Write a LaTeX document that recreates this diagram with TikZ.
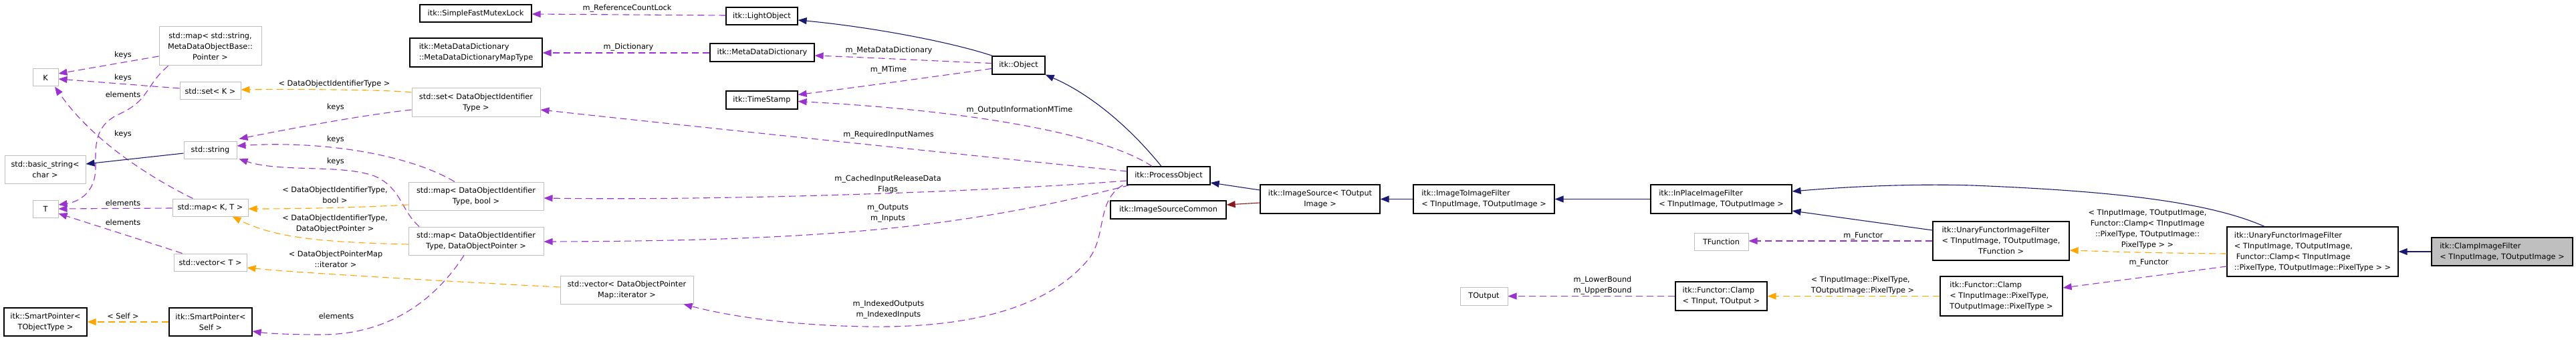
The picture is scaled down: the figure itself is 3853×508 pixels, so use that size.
\documentclass[tikz,border=0pt]{standalone}
\usepackage{fontspec}
\setmainfont{DejaVu Sans}
\usetikzlibrary{arrows.meta,calc}
\definecolor{navy}{HTML}{191970}
\definecolor{orchid}{HTML}{9A32CD}
\definecolor{orng}{HTML}{FFA500}
\definecolor{fire}{HTML}{8B1A1A}
\definecolor{gseventyfive}{HTML}{BFBFBF}
\begin{document}
\begin{tikzpicture}[x=1pt,y=-1pt,
  every node/.style={font=\fontsize{11.3}{16}\selectfont, inner sep=0pt},
  dnode/.style={draw=black, line width=1.2pt, fill=white, align=center},
  unode/.style={draw=gseventyfive, line width=1pt, fill=white, align=center},
  lbl/.style={align=center},
  edgebase/.style={line width=1.1pt, -{Triangle[length=13pt,width=10pt]}},
  inh/.style={edgebase, draw=navy},
  priv/.style={edgebase, draw=fire},
  use/.style={edgebase, draw=orchid, dash pattern=on 10pt off 6pt},
  tmpl/.style={edgebase, draw=orng, dash pattern=on 10pt off 6pt}]
\useasboundingbox (0,0) rectangle (3853,508);
\fill[white] (0,0) rectangle (3853,508);

% ---------------- nodes ----------------
\node[unode, minimum width=153, minimum height=58] (mapstr) at (314.5,69) {std::map< std::string,\\ MetaDataObjectBase::\\ Pointer >};
\node[unode, minimum width=38, minimum height=26] (K) at (68,116) {K};
\node[unode, minimum width=91, minimum height=26] (setK) at (314.5,136) {std::set< K >};
\node[unode, minimum width=79, minimum height=26] (str) at (314.5,224) {std::string};
\node[unode, minimum width=121, minimum height=42] (basic) at (67.5,253) {std::basic\_string<\\char >};
\node[unode, minimum width=38, minimum height=26] (T) at (68,312) {T};
\node[unode, minimum width=113, minimum height=26] (mapKT) at (314.5,310) {std::map< K, T >};
\node[unode, minimum width=109, minimum height=26] (vecT) at (314.5,392) {std::vector< T >};
\node[dnode, minimum width=124, minimum height=42] (spT) at (68,481) {itk::SmartPointer<\\ TObjectType >};
\node[dnode, minimum width=124, minimum height=42] (spS) at (315,481) {itk::SmartPointer<\\ Self >};
\node[dnode, minimum width=167, minimum height=26] (mutex) at (711.5,20) {itk::SimpleFastMutexLock};
\node[dnode, minimum width=198, minimum height=43, align=left] (mdmap) at (712,78.5) {itk::MetaDataDictionary\\::MetaDataDictionaryMapType};
\node[unode, minimum width=192, minimum height=42] (setD) at (712,153) {std::set< DataObjectIdentifier\\Type >};
\node[unode, minimum width=202, minimum height=42] (mapDB) at (712,293) {std::map< DataObjectIdentifier\\Type, bool >};
\node[unode, minimum width=202, minimum height=42] (mapDP) at (712,360) {std::map< DataObjectIdentifier\\Type, DataObjectPointer >};
\node[unode, minimum width=199, minimum height=42] (vecD) at (937.5,433) {std::vector< DataObjectPointer\\Map::iterator >};
\node[dnode, minimum width=107, minimum height=26] (light) at (1139.5,24) {itk::LightObject};
\node[dnode, minimum width=156, minimum height=27] (mdd) at (1140,78.5) {itk::MetaDataDictionary};
\node[dnode, minimum width=107, minimum height=27] (ts) at (1139.5,149.5) {itk::TimeStamp};
\node[dnode, minimum width=79, minimum height=27] (obj) at (1523.5,97.5) {itk::Object};
\node[dnode, minimum width=124, minimum height=27] (proc) at (1748,262.5) {itk::ProcessObject};
\node[dnode, minimum width=173, minimum height=27] (isc) at (1747.5,313.5) {itk::ImageSourceCommon};
\node[dnode, minimum width=179, minimum height=43] (isrc) at (1974.5,297.5) {itk::ImageSource< TOutput\\Image >};
\node[dnode, minimum width=211, minimum height=43, align=left] (i2i) at (2219.5,297.5) {itk::ImageToImageFilter\\< TInputImage, TOutputImage >};
\node[unode, minimum width=71, minimum height=27] (tout) at (2219.5,442.5) {TOutput};
\node[dnode, minimum width=211, minimum height=43, align=left] (inplace) at (2574.5,297.5) {itk::InPlaceImageFilter\\< TInputImage, TOutputImage >};
\node[unode, minimum width=81, minimum height=26] (tfunc) at (2574.5,361) {TFunction};
\node[dnode, minimum width=137, minimum height=43, align=left] (clampIO) at (2574.5,442.5) {itk::Functor::Clamp\\< TInput, TOutput >};
\node[dnode, minimum width=204, minimum height=58] (ufTF) at (2993,360) {\begin{tabular}{@{}l@{}}itk::UnaryFunctorImageFilter\\< TInputImage, TOutputImage,\\\multicolumn{1}{@{}c@{}}{TFunction >}\end{tabular}};
\node[dnode, minimum width=183, minimum height=59] (clampPT) at (2993.5,442.5) {\begin{tabular}{@{}l@{}}itk::Functor::Clamp\\< TInputImage::PixelType,\\\multicolumn{1}{@{}c@{}}{TOutputImage::PixelType >}\end{tabular}};
\node[dnode, minimum width=256, minimum height=74, align=left] (ufC) at (3459,376) {itk::UnaryFunctorImageFilter\\< TInputImage, TOutputImage,\\\hspace*{3pt}Functor::Clamp< TInputImage\\::PixelType, TOutputImage::PixelType > >};
\node[dnode, fill=gseventyfive, minimum width=211, minimum height=42, align=left] (clampIF) at (3742.5,376) {itk::ClampImageFilter\\< TInputImage, TOutputImage >};

% ---------------- labels ----------------
\node[lbl] (l1) at (184,82) {keys};
\node[lbl] (l2) at (184,116) {keys};
\node[lbl] (l3) at (184,141) {elements};
\node[lbl] (l4) at (184,200) {keys};
\node[lbl] (l6) at (184,303) {elements};
\node[lbl] (l7) at (184,332) {elements};
\node[lbl] (l8) at (184,472) {< Self >};
\node[lbl] (l9) at (503,472) {elements};
\node[lbl] (l10) at (500,125) {< DataObjectIdentifierType >};
\node[lbl] (l11) at (502,160) {keys};
\node[lbl] (l12) at (502,208) {keys};
\node[lbl] (l13) at (502,241) {keys};
\node[lbl] (l14) at (501,291) {< DataObjectIdentifierType,\\ bool >};
\node[lbl] (l15) at (501,334.5) {< DataObjectIdentifierType,\\ DataObjectPointer >};
\node[lbl] (l16) at (502,387.5) {< DataObjectPointerMap\\ ::iterator >};
\node[lbl] (l17) at (938,13) {m\_ReferenceCountLock};
\node[lbl] (l18) at (940,71) {m\_Dictionary};
\node[lbl] (l20) at (1329.5,76) {m\_MetaDataDictionary};
\node[lbl] (l21) at (1329,105) {m\_MTime};
\node[lbl] (l22) at (1525,165) {m\_OutputInformationMTime};
\node[lbl] (l23) at (1329,202) {m\_RequiredInputNames};
\node[lbl] (l24) at (1328,275.7) {m\_CachedInputReleaseData\\Flags};
\node[lbl] (l25) at (1328,318.7) {m\_Outputs\\m\_Inputs};
\node[lbl] (l26) at (1329,462.7) {m\_IndexedOutputs\\m\_IndexedInputs};
\node[lbl] (l34) at (2787,352.7) {m\_Functor};
\node[lbl] (l35) at (2397,426.7) {m\_LowerBound\\m\_UpperBound};
\node[lbl, align=left] (l36) at (2786,426.7) {< TInputImage::PixelType,\\TOutputImage::PixelType >};
\node[lbl] (l37) at (3212,342.75) {< TInputImage, TOutputImage,\\Functor::Clamp< TInputImage\\::PixelType, TOutputImage::\\PixelType > >};
\node[lbl] (l38) at (3214,392.7) {m\_Functor};

% ---------------- edges ----------------
\draw[use] ($(mapstr.west)+(0,15)$) -- ($(K.east)+(0,-6)$);
\draw[use] ($(setK.west)+(0,-4)$) -- ($(K.east)+(0,2)$);
\draw[use] ($(mapstr.south west)+(14,0)$) .. controls (215,130) and (225,150) .. (175,172)
   .. controls (140,190) and (143,220) .. (143,250) .. controls (143,290) and (115,302) .. ($(T.east)+(0,-6)$);
\draw[use] ($(mapKT.north)+(-26,0)$) .. controls (230,268) and (140,213) .. ($(K.south)+(14,0)$);
\draw[inh] ($(str.west)+(0,5)$) -- ($(basic.east)+(0,-8)$);
\draw[use] ($(mapKT.west)+(0,1)$) -- (T.east);
\draw[use] ($(vecT.north west)+(13,0)$) .. controls (207,357) and (153,340) .. ($(T.east)+(0,7)$);
\draw[tmpl] (spS.west) -- (spT.east);
\draw[use] ($(mapDP.south)+(-18,0)$) .. controls (650,450) and (580,500) .. (480,500)
   .. controls (430,500) and (400,498) .. ($(spS.east)+(0,14)$);
\draw[tmpl] ($(setD.west)+(0,-15)$) .. controls (580,134) and (450,133) .. ($(setK.east)+(0,-2)$);
\draw[use] ($(setD.west)+(0,11)$) .. controls (540,172) and (420,195) .. ($(str.north east)+(3,-3)$);
\draw[use] ($(mapDB.north)+(-32,0)$) .. controls (610,230) and (480,210) .. ($(str.east)+(0,-6)$);
\draw[use] ($(mapDP.north)+(-85,0)$) .. controls (600,315) and (600,280) .. (560,263)
   .. controls (510,245) and (420,258) .. ($(str.south east)+(3,0)$);
\draw[tmpl] ($(mapDB.west)+(0,13)$) .. controls (540,310) and (450,312) .. ($(mapKT.east)+(0,2)$);
\draw[tmpl] ($(mapDP.west)+(0,5)$) .. controls (480,362) and (410,355) .. ($(mapKT.south east)+(-24,0)$);
\draw[tmpl] ($(vecD.west)+(0,-4)$) .. controls (700,422) and (450,408) .. ($(vecT.east)+(0,8)$);
\draw[use] ($(light.west)+(0,-1)$) -- ($(mutex.east)+(0,1)$);
\draw[use] ($(mdd.west)+(0,0.5)$) -- ($(mdmap.east)+(0,0.5)$);
\draw[inh] ($(obj.north west)+(1,0)$) .. controls (1420,62) and (1300,40) .. ($(light.east)+(0,6)$);
\draw[use] ($(obj.west)+(0,-3)$) .. controls (1440,93) and (1300,86) .. ($(mdd.east)+(0,4.5)$);
\draw[use] ($(obj.west)+(0,5)$) .. controls (1430,110) and (1300,128) .. ($(ts.east)+(0,-8)$);
\draw[use] ($(proc.north)+(-25,0)$) .. controls (1650,200) and (1450,165) .. ($(ts.east)+(0,2)$);
\draw[use] ($(proc.west)+(0,-6.5)$) .. controls (1450,232) and (1000,185) .. ($(setD.east)+(0,11)$);
\draw[use] ($(proc.west)+(0,7.5)$) .. controls (1500,285) and (1100,300) .. ($(mapDB.east)+(0,3)$);
\draw[use] ($(proc.south west)+(4,0)$) .. controls (1450,338) and (1250,360) .. ($(mapDP.east)+(0,1)$);
\draw[use] ($(proc.south west)+(-6,0)$) .. controls (1640,300) and (1655,350) .. (1630,385)
   .. controls (1570,460) and (1450,490) .. (1300,488) .. controls (1200,487) and (1100,475) .. ($(vecD.south east)+(-15,0)$);
\draw[inh] ($(proc.north)+(-11,0)$) .. controls (1690,190) and (1630,140) .. (obj.south east);
\draw[inh] ($(isrc.west)+(0,-13.5)$) -- ($(proc.east)+(0,10.5)$);
\draw[priv] ($(isrc.west)+(0,5.5)$) -- ($(isc.east)+(0,-7.5)$);
\draw[inh] (i2i.west) -- (isrc.east);
\draw[inh] (inplace.west) -- (i2i.east);
\draw[inh] ($(ufTF.west)+(0,-16)$) -- ($(inplace.east)+(0,17.5)$);
\draw[inh] ($(ufC.north)+(-72,0)$) .. controls (3300,300) and (3150,285) .. (2950,277)
   .. controls (2850,274) and (2750,280) .. ($(inplace.east)+(0,-11.5)$);
\draw[use] (ufTF.west) -- ($(tfunc.east)+(0,-1)$);
\draw[use] (clampIO.west) -- (tout.east);
\draw[tmpl] (clampPT.west) -- (clampIO.east);
\draw[tmpl] ($(ufC.west)+(0,3)$) .. controls (3200,378) and (3130,375) .. ($(ufTF.east)+(0,14)$);
\draw[use] ($(ufC.west)+(0,22)$) -- ($(clampPT.east)+(0,-12.5)$);
\draw[inh] (clampIF.west) -- (ufC.east);
\end{tikzpicture}
\end{document}
